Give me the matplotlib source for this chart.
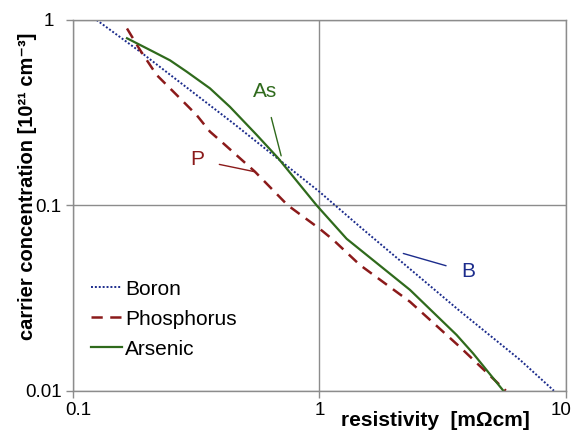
import matplotlib
matplotlib.use("Agg")
import matplotlib.pyplot as plt
import matplotlib.transforms as mtransforms

plt.rcParams["font.family"] = ["Liberation Sans", "DejaVu Sans"]

# resistivity [mOhm cm] vs carrier concentration [1e21 cm^-3]
boron_rho = [0.125, 0.1875, 0.448, 1.0, 1.46, 3.7, 6.5, 8.93]
boron_n = [1.0, 0.675, 0.277, 0.1185, 0.0767, 0.027, 0.0147, 0.01]

phos_rho = [0.166, 0.1875, 0.219, 0.264, 0.318, 0.360, 0.408, 0.548, 0.745, 1.0, 1.14,
            1.46, 2.33, 3.7, 5.7]
phos_n = [0.90, 0.689, 0.505, 0.394, 0.307, 0.250, 0.216, 0.152, 0.10, 0.075, 0.065,
          0.0477, 0.0302, 0.0173, 0.01]

arsenic_rho = [0.166, 0.212, 0.248, 0.290, 0.360, 0.434, 0.557, 0.68, 0.975, 1.29,
               2.33, 3.6, 4.2, 5.57]
arsenic_n = [0.797, 0.675, 0.606, 0.526, 0.428, 0.34, 0.240, 0.18, 0.10, 0.066,
             0.035, 0.020, 0.0159, 0.01]

BLUE = "#1c2c8c"
RED = "#8b1a1a"
GREEN = "#2f6a1c"
GRID = "#8c8c8c"


def shift(label, fig, dx_px):
    off = mtransforms.ScaledTranslation(dx_px / fig.dpi, 0, fig.dpi_scale_trans)
    label.set_transform(label.get_transform() + off)


def main() -> None:
    fig = plt.figure(figsize=(5.73, 4.30), dpi=100)
    ax = fig.add_axes([72.7 / 573, 1 - 390.7 / 430, 493.3 / 573, 370.7 / 430])

    ax.plot(boron_rho, boron_n, color=BLUE, lw=1.4, linestyle=(0, (1, 1)), label="Boron")
    ax.plot(phos_rho, phos_n, color=RED, lw=1.8, linestyle=(0, (4.5, 3)), label="Phosphorus")
    ax.plot(arsenic_rho, arsenic_n, color=GREEN, lw=1.6, label="Arsenic")

    ax.set_xscale("log")
    ax.set_yscale("log")
    ax.set_xlim(0.1, 10)
    ax.set_ylim(0.01, 1)
    ax.set_xticks([0.1, 1, 10])
    ax.set_xticklabels(["0.1", "1", "10"])
    ax.set_yticks([0.01, 0.1, 1])
    ax.set_yticklabels(["0.01", "0.1", "1"])
    ax.minorticks_off()
    ax.tick_params(length=5, width=1, color=GRID, labelsize=13.5, pad=3)
    ax.grid(True, color=GRID, lw=1)
    for spine in ax.spines.values():
        spine.set_color(GRID)
        spine.set_linewidth(1)

    xlabels = ax.get_xticklabels()
    shift(xlabels[0], fig, 6)
    shift(xlabels[-1], fig, -5)
    shift(ax.get_yticklabels()[-1], fig, -8)

    ax.set_xlabel("resistivity  [m\u03a9cm]", fontsize=15, fontweight="bold")
    ax.xaxis.set_label_coords(0.736, -0.055)
    ax.set_ylabel("carrier concentration [10\u00b2\u00b9 cm\u207b\u00b3]", fontsize=14.5,
                  fontweight="bold")
    ax.yaxis.set_label_coords(-0.072, 0.552)

    ax.annotate("As", xy=(0.70, 0.185), xytext=(0.60, 0.41), color=GREEN, fontsize=15,
                ha="center", va="center",
                arrowprops=dict(arrowstyle="-", color=GREEN, lw=1, shrinkA=10, shrinkB=0))
    ax.annotate("P", xy=(0.545, 0.152), xytext=(0.32, 0.176), color=RED, fontsize=15,
                ha="center", va="center",
                arrowprops=dict(arrowstyle="-", color=RED, lw=1, shrinkA=9, shrinkB=0))
    ax.annotate("B", xy=(2.19, 0.055), xytext=(4.0, 0.0437), color=BLUE, fontsize=15,
                ha="center", va="center",
                arrowprops=dict(arrowstyle="-", color=BLUE, lw=1, shrinkA=9, shrinkB=0))

    ax.legend(loc="center left", bbox_to_anchor=(0.037, 0.193), frameon=False, fontsize=15,
              handlelength=1.5, handletextpad=0.15, labelspacing=0.53, borderpad=0,
              borderaxespad=0)

    fig.savefig("out.png", dpi=100, facecolor="white")
    plt.close(fig)


if __name__ == "__main__":
    main()
